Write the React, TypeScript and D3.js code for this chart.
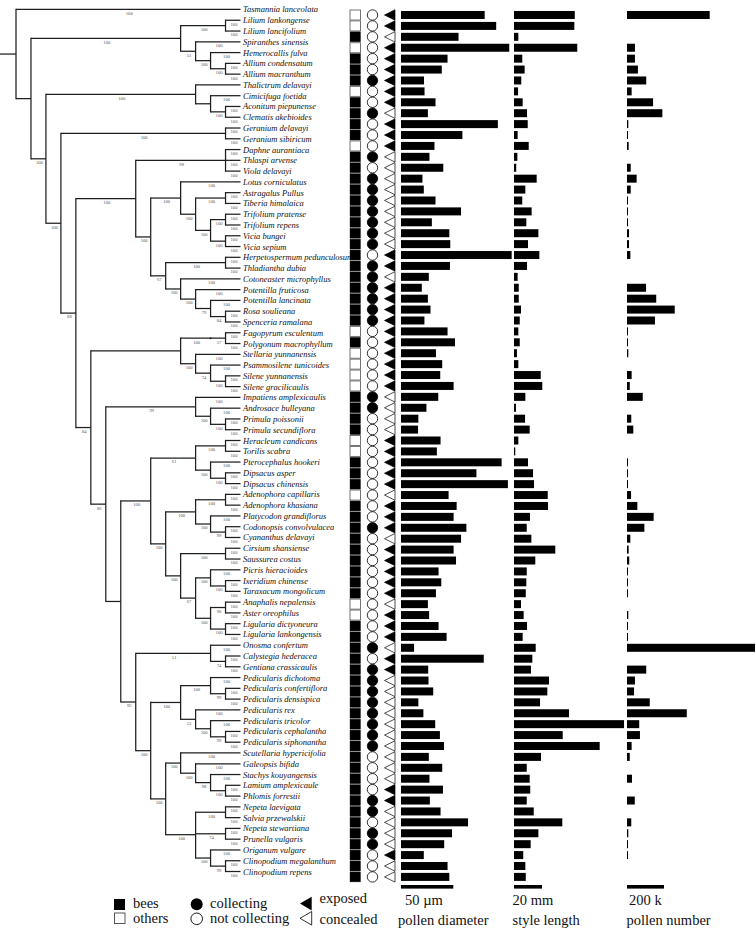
import React from "react";
import * as d3 from "d3";

// ---------- DATA ----------
const taxa = [
  "Tasmannia lanceolata", "Lilium lankongense", "Lilium lancifolium", "Spiranthes sinensis", "Hemerocallis fulva",
  "Allium condensatum", "Allium macranthum", "Thalictrum delavayi", "Cimicifuga foetida", "Aconitum piepunense",
  "Clematis akebioides", "Geranium delavayi", "Geranium sibiricum", "Daphne aurantiaca", "Thlaspi arvense",
  "Viola delavayi", "Lotus corniculatus", "Astragalus Pullus", "Tiberia himalaica", "Trifolium pratense",
  "Trifolium repens", "Vicia bungei", "Vicia sepium", "Herpetospermum pedunculosum", "Thladiantha dubia",
  "Cotoneaster microphyllus", "Potentilla fruticosa", "Potentilla lancinata", "Rosa soulieana", "Spenceria ramalana",
  "Fagopyrum esculentum", "Polygonum macrophyllum", "Stellaria yunnanensis", "Psammosilene tunicoides", "Silene yunnanensis",
  "Silene gracilicaulis", "Impatiens amplexicaulis", "Androsace bulleyana", "Primula poissonii", "Primula secundiflora",
  "Heracleum candicans", "Torilis scabra", "Pterocephalus hookeri", "Dipsacus asper", "Dipsacus chinensis",
  "Adenophora capillaris", "Adenophora khasiana", "Platycodon grandiflorus", "Codonopsis convolvulacea", "Cyananthus delavayi",
  "Cirsium shansiense", "Saussurea costus", "Picris hieracioides", "Ixeridium chinense", "Taraxacum mongolicum",
  "Anaphalis nepalensis", "Aster oreophilus", "Ligularia dictyoneura", "Ligularia lankongensis", "Onosma confertum",
  "Calystegia hederacea", "Gentiana crassicaulis", "Pedicularis dichotoma", "Pedicularis confertiflora", "Pedicularis densispica",
  "Pedicularis rex", "Pedicularis tricolor", "Pedicularis cephalantha", "Pedicularis siphonantha", "Scutellaria hypericifolia",
  "Galeopsis bifida", "Stachys kouyangensis", "Lamium amplexicaule", "Phlomis forrestii", "Nepeta laevigata",
  "Salvia przewalskii", "Nepeta stewartiana", "Prunella vulgaris", "Origanum vulgare", "Clinopodium megalanthum",
  "Clinopodium repens",
];

// pollinator: B = bees, O = others
const pollinator = [
  null, "O", "O", "B", "O", "B", "B", "B", "O", "B", "B", "B", "B", "O", "B", "B", "B", "B", "B", "B", "B",
  "B", "B", "B", "B", "B", "B", "B", "B", "B", "O", "B", "O", "O", "O", "O", "B", "B", "B", "B", "O",
  "O", "B", "B", "B", "O", "B", "B", "B", "B", "B", "B", "B", "B", "B", "O", "O", "B", "B", "B", "B",
  "B", "B", "B", "B", "B", "B", "B", "B", "B", "B", "B", "B", "B", "B", "B", "B", "B", "B", "B", "B",
];
// 1 = collecting, 0 = not collecting
const collecting = [
  null, 0, 0, 0, 0, 0, 0, 1, 0, 0, 1, 0, 0, 0, 1, 0, 1, 1, 1, 1, 1,
  1, 1, 0, 1, 1, 1, 1, 1, 1, 0, 0, 0, 0, 0, 0, 1, 1, 0, 0, 0,
  0, 0, 0, 0, 0, 0, 0, 1, 0, 0, 0, 0, 0, 0, 0, 0, 0, 0, 1, 0,
  1, 1, 1, 1, 1, 1, 1, 1, 0, 0, 0, 0, 1, 1, 0, 1, 1, 0, 0, 0,
];
// 1 = exposed, 0 = concealed
const exposed = [
  null, 1, 1, 0, 1, 1, 1, 1, 1, 1, 0, 1, 1, 1, 0, 0, 0, 0, 0, 0, 0,
  0, 0, 1, 1, 0, 1, 1, 1, 1, 1, 1, 1, 1, 1, 1, 0, 0, 0, 0, 1,
  1, 1, 1, 1, 0, 1, 1, 1, 0, 1, 1, 1, 1, 1, 0, 1, 1, 1, 0, 1,
  1, 0, 0, 0, 0, 0, 0, 0, 0, 0, 0, 1, 1, 0, 0, 0, 0, 1, 0, 0,
];
// pollen diameter (µm)
const pollenDiameter = [
  null, 80, 91, 55, 103.5, 44.5, 39, 22, 22.5, 33, 25.7, 92.6, 58.7, 32, 27.2, 40.4, 20.5, 21.8, 33, 57.4, 29.5,
  46.2, 47.1, 105.8, 46.8, 26.6, 19.9, 25.7, 28.2, 22.4, 44.5, 51.6, 33.4, 39.4, 37.5, 50.3, 35.6, 24.3, 16.6, 16.3, 37.8,
  34.3, 96.2, 72.1, 102.2, 45.5, 53.2, 50.3, 62.5, 57.4, 50.3, 52.6, 35.9, 38.5, 33.4, 25.7, 26.9, 35.9, 43.6, 12.5, 79.1,
  26, 26.3, 30.8, 16.6, 21.4, 32.7, 37.2, 41.1, 26.6, 39.4, 27.2, 40.1, 27.6, 37.8, 64.1, 48.8, 41.3, 21.8, 44.5, 46.2,
];
// style length (mm)
const styleLength = [
  null, 43.4, 43.1, 3.1, 45.2, 5.9, 7.6, 5.2, 2.9, 6.2, 9.3, 9.8, 2.6, 10.5, 2.4, 1.6, 16.2, 8.1, 5.9, 12.6, 8.8,
  17.4, 10, 18.1, 9.3, 2.6, 3.4, 3.4, 5, 4.1, 3.1, 4.1, 2.1, 3.1, 19.1, 20.2, 8.1, 1.4, 7.9, 11.2, 3.1,
  0.9, 10, 13.6, 14.3, 24.1, 24.3, 11.4, 9.1, 12.4, 29.5, 15.2, 9.1, 8.8, 8.4, 5, 6.9, 9.3, 6.2, 15.5, 13.1,
  12.1, 25, 23.8, 18.6, 39.3, 78.6, 34.8, 61.2, 19.3, 9.1, 11.2, 11.6, 9.1, 14.1, 34.5, 17.4, 11.9, 6.6, 8.1, 8.4,
];
// pollen number (thousands)
const pollenNumber = [
  null, 447, null, null, 43, 43, 59, 104, 25, 141, 191, 7, 4, 9, null, 20, 52, 20, 4, 3, 5,
  11, 11, 18, null, null, 103, 158, 258, 151, 4, 3, 7, null, 25, 15, 85, null, 23, 34, null,
  null, 4, 3, 4, 22, 56, 144, 94, 18, 9, 12, 3, 3, 3, null, 7, 3, 4, 692, null,
  104, 43, 38, 123, 323, 66, 70, 25, 15, null, 27, null, 42, null, 23, 7, 5, 4, null, null,
];

// scale-bar values
const scaleBars = [
  { value: 50, label: "50 µm", title: "pollen diameter" },
  { value: 20, label: "20 mm", title: "style length" },
  { value: 200, label: "200 k", title: "pollen number" },
];

// Phylogeny (Newick; number after ':' = bootstrap support of the branch)
const monocots = "((Lilium_lankongense:100,Lilium_lancifolium:100):100,(Spiranthes_sinensis:100,(Hemerocallis_fulva:100,(Allium_condensatum:100,Allium_macranthum:100):100):100):51)";
const ranunculales = "(Thalictrum_delavayi,(Cimicifuga_foetida:100,(Aconitum_piepunense:100,Clematis_akebioides:100):100))";
const geraniales = "(Geranium_delavayi:100,Geranium_sibiricum:100)";
const malvids = "(Daphne_aurantiaca:100,Thlaspi_arvense:100,Viola_delavayi:100)";
const fabales = "(Lotus_corniculatus:100,((Astragalus_Pullus:100,Tiberia_himalaica:100):100,((Trifolium_pratense:100,Trifolium_repens:100):100,(Vicia_bungei:100,Vicia_sepium:100):100):100):100)";
const rosales = "((Herpetospermum_pedunculosum:100,Thladiantha_dubia:100):100,(Cotoneaster_microphyllus:100,(Potentilla_fruticosa:100,(Potentilla_lancinata:100,(Rosa_soulieana:100,Spenceria_ramalana:100):84):79):100):100)";
const caryophyllales = "(((Fagopyrum_esculentum:100,Polygonum_macrophyllum:100):57):100,(Stellaria_yunnanensis:100,(Psammosilene_tunicoides:100,(Silene_yunnanensis:100,Silene_gracilicaulis:100):100):74):100)";
const ericales = "(Impatiens_amplexicaulis:100,(Androsace_bulleyana:100,(Primula_poissonii:100,Primula_secundiflora:100):100):100)";
const apiales = "((Heracleum_candicans:100,Torilis_scabra:100):100,(Pterocephalus_hookeri:100,(Dipsacus_asper:100,Dipsacus_chinensis:100):100):100)";
const campanulaceae = "((Adenophora_capillaris:100,Adenophora_khasiana:100):100,(Platycodon_grandiflorus:100,(Codonopsis_convolvulacea:100,Cyananthus_delavayi:100):99):100)";
const asteraceae = "((Cirsium_shansiense:100,Saussurea_costus:100):100,((Picris_hieracioides:100,(Ixeridium_chinense:100,Taraxacum_mongolicum:100):100):100,((Anaphalis_nepalensis:100,Aster_oreophilus:100):90,(Ligularia_dictyoneura:100,Ligularia_lankongensis:100):100):100):67)";
const gentianales = "(Onosma_confertum:100,(Calystegia_hederacea:100,Gentiana_crassicaulis:100):74)";
const orobanchaceae = "((Pedicularis_dichotoma:100,(Pedicularis_confertiflora:100,Pedicularis_densispica:100):99):100,(Pedicularis_rex:100,(Pedicularis_tricolor:100,(Pedicularis_cephalantha:100,Pedicularis_siphonantha:100):99):100):53)";
const lamioideae = "(Scutellaria_hypericifolia:100,(Galeopsis_bifida:100,(Stachys_kouyangensis:100,(Lamium_amplexicaule:100,Phlomis_forrestii:100):100):98):100)";
const nepetoideae = "((Nepeta_laevigata:100,Salvia_przewalskii:100):100,(Nepeta_stewartiana:100,Prunella_vulgaris:100):74,(Origanum_vulgare:100,(Clinopodium_megalanthum:100,Clinopodium_repens:100):99):100)";

const lamiales = `(${orobanchaceae}:100,(${lamioideae}:100,${nepetoideae}:100):100)`;
const lamiids = `(${gentianales}:51,${lamiales}:100)`;
const campanulids = `(${apiales}:61,(${campanulaceae}:100,${asteraceae}:100):100)`;
const asterids = `(${ericales}:99,(${campanulids}:100,${lamiids}:92))`;
const superasterids = `(${caryophyllales},${asterids}:86)`;
const rosids = `(${malvids}:98,(${fabales}:100,${rosales}:67):100)`;
const coreEudicots = `(${rosids}:100,${superasterids}:84)`;
const eudicots = `(${ranunculales}:100,(${geraniales}:100,${coreEudicots}:88):100)`;
const treeNewick = `(Tasmannia_lanceolata:100,(${monocots}:100,${eudicots}:100))`;

// ---------- helpers ----------
type TNode = { name?: string; support?: string; children?: TNode[] };

function parseNewick(src: string): TNode {
  const s = src.replace(/\s+/g, "");
  let i = 0;
  function node(): TNode {
    const n: TNode = {};
    if (s[i] === "(") {
      i++;
      n.children = [];
      while (i < s.length) {
        n.children.push(node());
        if (s[i] === ",") { i++; continue; }
        if (s[i] === ")") { i++; break; }
      }
    } else {
      const st = i;
      while (i < s.length && !",():;".includes(s[i])) i++;
      n.name = s.slice(st, i).replace(/_/g, " ");
    }
    if (s[i] === ":") {
      i++;
      const st = i;
      while (i < s.length && !",();".includes(s[i])) i++;
      n.support = s.slice(st, i);
    }
    return n;
  }
  return node();
}

export default function App() {
  const W = 756;
  const H = 932;
  const serif = "'Liberation Serif', 'Times New Roman', serif";

  const root = d3.hierarchy<TNode>(parseNewick(treeNewick));
  d3.cluster<TNode>().size([1, 1]).separation(() => 1)(root);

  const yTop = 4.1;
  const yBottom = 876.9;
  const yTree = d3.scaleLinear().domain([0, 1]).range([yTop, yBottom]);
  const xTree = d3.scaleLinear().domain([0, 1]).range([16, 240.5]);
  const yRow = d3.scaleLinear().domain([0, taxa.length - 1]).range([yTop, yBottom]);

  const diamScale = d3.scaleLinear().domain([0, 50]).range([0, 52.3]);
  const styleScale = d3.scaleLinear().domain([0, 20]).range([0, 28]);
  const numScale = d3.scaleLinear().domain([0, 200]).range([0, 37]);
  const colX = { diam: 401, style: 514, num: 627 };

  const nodes = root.descendants();
  const lines: any[] = [];
  const labels: any[] = [];
  const dots: any[] = [];
  const stroke = "#1f1f1f";
  const sw = 1.25;

  nodes.forEach((n, k) => {
    const x = xTree(n.y as number);
    const y = yTree(n.x as number);
    if (n.parent) {
      const px = xTree(n.parent.y as number);
      lines.push(<line key={"h" + k} x1={px} x2={x} y1={y} y2={y} stroke={stroke} strokeWidth={sw} />);
      if (n.data.support) {
        labels.push(
          <text key={"s" + k} x={(px + x) / 2 + 1} y={y + 5.4} fontSize={4.6} fill="#555" textAnchor="middle" fontFamily={serif}>
            {n.data.support}
          </text>
        );
      }
    } else {
      lines.push(<line key="rootstub" x1={0} x2={x} y1={y} y2={y} stroke={stroke} strokeWidth={sw} />);
    }
    if (n.children && n.children.length > 1) {
      const ys = n.children.map((c) => yTree(c.x as number));
      lines.push(
        <line key={"v" + k} x1={x} x2={x} y1={(d3.min(ys) as number) - sw / 2} y2={(d3.max(ys) as number) + sw / 2} stroke={stroke} strokeWidth={sw} />
      );
    } else if (n.children && n.children.length === 1) {
      dots.push(<circle key={"d" + k} cx={x} cy={y} r={1} fill={stroke} />);
    }
  });

  const leaves = root.leaves();
  const tipLabels = leaves.map((l, k) => (
    <text key={"t" + k} x={243} y={yTree(l.x as number) + 3} fontSize={8.5} fontStyle="italic" fontFamily={serif} fill="#111">
      {l.data.name}
    </text>
  ));

  const rows = taxa.map((name, i) => {
    if (pollinator[i] == null) return null;
    const y = yRow(i);
    const bee = pollinator[i] === "B";
    const col = collecting[i] === 1;
    const exp = exposed[i] === 1;
    const pd = pollenDiameter[i];
    const sl = styleLength[i];
    const pn = pollenNumber[i];
    return (
      <g key={"r" + i}>
        <rect x={350} y={y - 5} width={10.5} height={10} fill={bee ? "#000" : "#fff"} stroke={bee ? "#222" : "#666"} strokeWidth={bee ? 0.4 : 0.9} />
        <circle cx={372.5} cy={y} r={5.2} fill={col ? "#000" : "#fff"} stroke="#000" strokeWidth={0.8} />
        <path d={`M395,${y - 5.2}L384.5,${y}L395,${y + 5.2}Z`} fill={exp ? "#000" : "#fff"} stroke="#000" strokeWidth={0.7} />
        {pd != null && <rect x={colX.diam} y={y - 4} width={diamScale(pd)} height={8} fill="#000" />}
        {sl != null && <rect x={colX.style} y={y - 4} width={Math.max(styleScale(sl), 1)} height={8} fill="#000" />}
        {pn != null && <rect x={colX.num} y={y - 4} width={Math.max(numScale(pn), 1)} height={8} fill="#000" />}
      </g>
    );
  });

  const barScales = [diamScale, styleScale, numScale];
  const barStarts = [colX.diam, colX.style, colX.num];
  const barLabelX = [405, 512.5, 629];
  const barTitleX = [398, 512.5, 626.5];
  const fs = 14.5;

  return (
    <svg width={W} height={H} viewBox={`0 0 ${W} ${H}`} style={{ position: "absolute", left: 0, top: 0, background: "#fff" }}>
      <rect x={0} y={0} width={W} height={H} fill="#fff" />
      <g>{lines}</g>
      <g>{dots}</g>
      <g>{labels}</g>
      <g>{tipLabels}</g>
      <g>{rows}</g>

      {/* scale bars */}
      {scaleBars.map((b, k) => (
        <g key={"sb" + k}>
          <rect x={barStarts[k]} y={885} width={barScales[k](b.value)} height={3.6} fill="#000" />
          <text x={barLabelX[k]} y={905} fontSize={fs} fontFamily={serif} fill="#111">{b.label}</text>
          <text x={barTitleX[k]} y={925} fontSize={fs} fontFamily={serif} fill="#111">{b.title}</text>
        </g>
      ))}

      {/* legend */}
      <g fontFamily={serif} fontSize={fs} fill="#111">
        <rect x={114} y={899} width={11} height={11} fill="#000" />
        <text x={133} y={907.5}>bees</text>
        <rect x={114.5} y={913} width={10.5} height={10.5} fill="#fff" stroke="#444" strokeWidth={0.9} />
        <text x={133} y={922.5}>others</text>

        <circle cx={196.7} cy={904.2} r={6} fill="#000" />
        <text x={210} y={907.5}>collecting</text>
        <circle cx={196.7} cy={918.8} r={5.8} fill="#fff" stroke="#000" strokeWidth={0.9} />
        <text x={210} y={922.5}>not collecting</text>

        <path d="M311.7,896.8L300,903.6L311.7,910.4Z" fill="#000" />
        <text x={319.5} y={903}>exposed</text>
        <path d="M311.7,911.5L300,918.3L311.7,925.1Z" fill="#fff" stroke="#000" strokeWidth={0.8} />
        <text x={319.5} y={923.5}>concealed</text>
      </g>
    </svg>
  );
}
